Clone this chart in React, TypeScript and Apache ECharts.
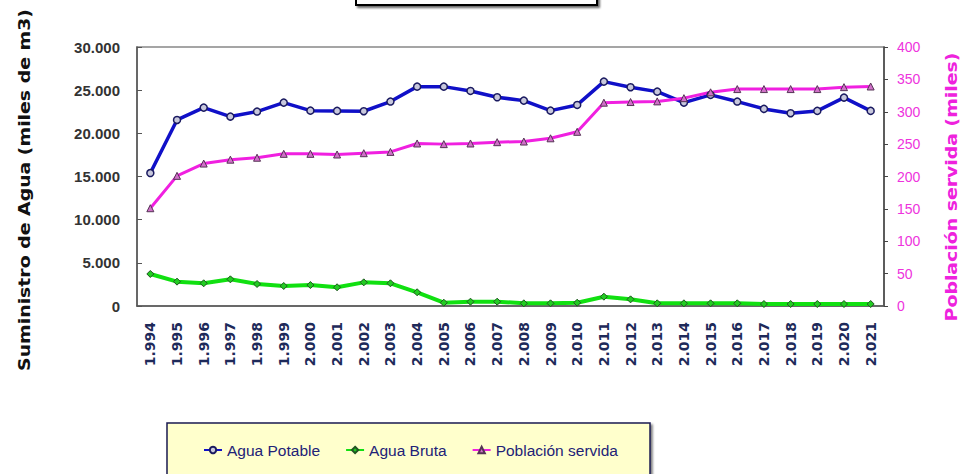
import React, { useEffect, useRef } from "react";
import * as echarts from "echarts";

const years = ["1.994","1.995","1.996","1.997","1.998","1.999","2.000","2.001","2.002","2.003","2.004","2.005","2.006","2.007","2.008","2.009","2.010","2.011","2.012","2.013","2.014","2.015","2.016","2.017","2.018","2.019","2.020","2.021"];
const aguaPotable = [15400,21550,22980,21940,22520,23560,22630,22600,22560,23680,25410,25410,24910,24180,23790,22630,23290,25990,25340,24830,23560,24450,23680,22830,22330,22600,24140,22600];
const aguaBruta = [3710,2820,2630,3090,2550,2320,2430,2170,2740,2630,1590,380,500,500,310,310,380,1080,770,310,310,310,310,230,230,230,230,230];
const poblacion = [151,201,220,226,229,235,235,234,236,238,251,250,251,253,254,259,269,314,315,316,321,330,335,335,335,335,338,339];
const leftTitle = "Suministro de Agua (miles de m3)";
const rightTitle = "Población servida (miles)";
const seriesNames = ["Agua Potable", "Agua Bruta", "Población servida"];

function fmtThousands(v: number): string {
  const s = String(Math.round(v));
  return s.replace(/\B(?=(\d{3})+(?!\d))/g, ".");
}

export default function App() {
  const ref = useRef<HTMLDivElement>(null);
  useEffect(() => {
    if (!ref.current) return;
    const chart = echarts.init(ref.current, null, { renderer: "svg" });
    chart.setOption({
      animation: false,
      backgroundColor: "#ffffff",
      grid: { left: 137, right: 78, top: 47, bottom: 168, show: true, borderColor: "#888888", borderWidth: 1.5 },
      legend: {
        data: seriesNames,
        left: 203,
        top: 442,
        padding: 0,
        itemGap: 25,
        itemWidth: 18,
        itemHeight: 8,
        textStyle: { fontFamily: "Liberation Sans, Arial", fontSize: 15.5, color: "#222277" },
      },
      graphic: [
        {
          type: "rect",
          shape: { x: 167, y: 423, width: 483, height: 70 },
          style: { fill: "#ffffcc", stroke: "#1a1a50", lineWidth: 1.5, shadowColor: "rgba(0,0,0,0.5)", shadowOffsetX: 2, shadowOffsetY: 2, shadowBlur: 2 },
          z: -10,
          silent: true,
        },
        {
          type: "rect",
          shape: { x: 356, y: -30, width: 241, height: 35 },
          style: { fill: "#ffffff", stroke: "#000000", lineWidth: 2, shadowColor: "rgba(0,0,0,0.6)", shadowOffsetX: 2, shadowOffsetY: 2, shadowBlur: 2 },
          silent: true,
        },
        {
          type: "text",
          x: 25,
          y: 190,
          rotation: Math.PI / 2,
          scaleX: 1.18,
          style: { text: leftTitle, fill: "#111111", font: "bold 16px 'DejaVu Sans'", align: "center", verticalAlign: "middle" },
        },
        {
          type: "text",
          x: 952,
          y: 187,
          rotation: Math.PI / 2,
          scaleX: 1.18,
          style: { text: rightTitle, fill: "#ee22dd", font: "bold 16px 'DejaVu Sans'", align: "center", verticalAlign: "middle" },
        },
      ],
      xAxis: {
        type: "category",
        data: years,
        boundaryGap: true,
        axisLine: { lineStyle: { color: "#555555", width: 1.5 } },
        axisTick: { alignWithLabel: true, length: 4, inside: true, lineStyle: { color: "#555555" } },
        axisLabel: { rotate: 90, interval: 0, margin: 16, color: "#1e2a5a", fontFamily: "DejaVu Sans", fontWeight: "bold", fontSize: 14 },
        splitLine: { show: false },
      },
      yAxis: [
        {
          type: "value",
          min: 0,
          max: 30000,
          interval: 5000,
          axisLine: { show: true, lineStyle: { color: "#555555", width: 1.5 } },
          axisTick: { show: true, inside: true, length: 5, lineStyle: { color: "#555555" } },
          axisLabel: { margin: 17, color: "#333333", fontFamily: "Liberation Sans, Arial", fontWeight: "bold", fontSize: 15, formatter: (v: number) => fmtThousands(v) },
          splitLine: { show: false },
        },
        {
          type: "value",
          min: 0,
          max: 400,
          interval: 50,
          position: "right",
          axisLine: { show: true, lineStyle: { color: "#444444", width: 1.5 } },
          axisTick: { show: true, length: 4, lineStyle: { color: "#444444" } },
          axisLabel: { margin: 13, color: "#ee33dd", fontFamily: "Liberation Sans, Arial", fontSize: 14 },
          splitLine: { show: false },
        },
      ],
      series: [
        {
          name: seriesNames[0],
          type: "line",
          yAxisIndex: 0,
          data: aguaPotable,
          symbol: "circle",
          symbolSize: 7,
          lineStyle: { color: "#1010c8", width: 3.5 },
          itemStyle: { color: "#c8c8dc", borderColor: "#1a1a60", borderWidth: 1.5 },
        },
        {
          name: seriesNames[1],
          type: "line",
          yAxisIndex: 0,
          data: aguaBruta,
          symbol: "diamond",
          symbolSize: 7,
          lineStyle: { color: "#11e011", width: 4 },
          itemStyle: { color: "#22cc22", borderColor: "#225522", borderWidth: 1 },
        },
        {
          name: seriesNames[2],
          type: "line",
          yAxisIndex: 1,
          data: poblacion,
          symbol: "triangle",
          symbolSize: 7,
          lineStyle: { color: "#f020e0", width: 3 },
          itemStyle: { color: "#d070c8", borderColor: "#553355", borderWidth: 1 },
        },
      ],
    });
    return () => chart.dispose();
  }, []);
  return <div ref={ref} style={{ width: 962, height: 474, position: "absolute", left: 0, top: 0 }} />;
}
